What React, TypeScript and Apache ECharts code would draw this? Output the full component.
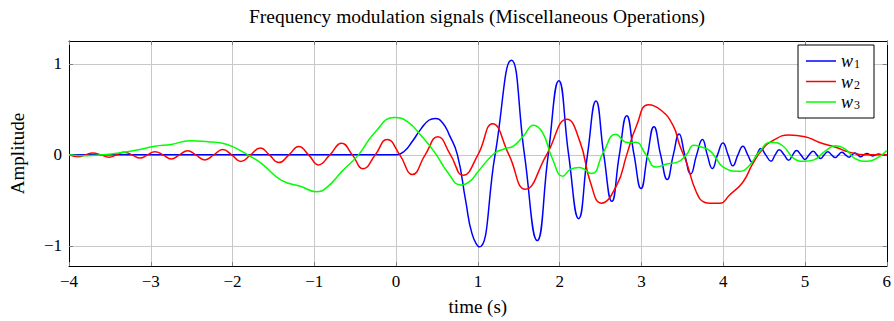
import React, { useEffect, useRef } from "react";
import * as echarts from "echarts";

// Text
const chartTitle = "Frequency modulation signals (Miscellaneous Operations)";
const xAxisName = "time (s)";
const yAxisName = "Amplitude";

// Axis ranges and ticks
const xMin = -4;
const xMax = 6;
const xStep = 1;
const yMin = -1.22;
const yMax = 1.25;
const yTicks = [-1, 0, 1];

// Series
const seriesNames = ["w1", "w2", "w3"];
const seriesColors = ["#0000ff", "#ff0000", "#00ff00"];

// [time, amplitude] samples
const w1: [number, number][] = [
  [-4, 0], [0, 0], [0.1, 0.04], [0.2, 0.15], [0.3, 0.28], [0.4, 0.38], [0.48, 0.4],
  [0.57, 0.35], [0.65, 0.22], [0.75, 0], [0.85, -0.5], [0.93, -0.87], [1.016, -1.01],
  [1.21, 0], [1.41, 1.04], [1.57, 0], [1.726, -0.94], [1.86, 0], [1.99, 0.815],
  [2.11, 0], [2.232, -0.7], [2.34, 0], [2.444, 0.59], [2.54, 0], [2.638, -0.51],
  [2.73, 0], [2.82, 0.43], [2.91, 0], [2.995, -0.37], [3.075, 0], [3.153, 0.31],
  [3.235, 0], [3.315, -0.27], [3.39, 0], [3.461, 0.23], [3.53, 0], [3.603, -0.21],
  [3.675, 0], [3.746, 0.17], [3.805, 0], [3.867, -0.15], [3.93, 0], [3.997, 0.13],
  [4.06, 0], [4.118, -0.12], [4.18, 0], [4.24, 0.095], [4.3, 0], [4.354, -0.08],
  [4.41, 0], [4.46, 0.07], [4.52, 0], [4.585, -0.07], [4.635, 0], [4.686, 0.055],
  [4.745, 0], [4.8, -0.06], [4.85, 0], [4.897, 0.047], [4.95, 0], [5.0, -0.05],
  [5.05, 0], [5.1, 0.04], [5.145, 0], [5.19, -0.04], [5.235, 0], [5.28, 0.035],
  [5.325, 0], [5.37, -0.03], [5.41, 0], [5.45, 0.03], [5.495, 0], [5.54, -0.025],
  [5.575, 0], [5.61, 0.02], [5.645, 0], [5.68, -0.02], [5.72, 0], [5.76, 0.015],
  [5.795, 0], [5.83, -0.012], [5.865, 0], [5.9, 0.01], [5.95, 0], [6.0, 0],
];

const w2: [number, number][] = [
  [-4, 0], [-3.88, -0.02], [-3.8, 0], [-3.71, 0.02], [-3.61, 0], [-3.51, -0.025],
  [-3.42, 0], [-3.33, 0.03], [-3.23, 0], [-3.13, -0.035], [-3.04, 0], [-2.95, 0.035],
  [-2.85, 0], [-2.75, -0.045], [-2.65, 0], [-2.55, 0.045], [-2.45, 0], [-2.34, -0.055],
  [-2.23, 0], [-2.12, 0.058], [-2.01, 0], [-1.9, -0.072], [-1.78, 0], [-1.66, 0.076],
  [-1.55, 0], [-1.435, -0.085], [-1.31, 0], [-1.19, 0.093], [-1.07, 0], [-0.95, -0.11],
  [-0.81, 0], [-0.667, 0.127], [-0.535, 0], [-0.403, -0.152], [-0.255, 0], [-0.11, 0.17],
  [0.045, 0], [0.2, -0.215], [0.355, 0], [0.51, 0.2], [0.665, 0], [0.82, -0.225],
  [1.0, 0], [1.18, 0.342], [1.38, 0], [1.58, -0.377], [1.84, 0], [2.09, 0.39],
  [2.25, 0.14], [2.375, -0.297], [2.51, -0.53], [2.7, -0.33], [2.82, 0], [2.94, 0.32],
  [3.084, 0.55], [3.24, 0.49], [3.388, 0.32], [3.47, 0.1], [3.55, -0.08], [3.67, -0.405],
  [3.77, -0.52], [3.84, -0.53], [3.96, -0.53], [4.078, -0.44], [4.24, -0.3], [4.36, -0.1],
  [4.483, 0.065], [4.605, 0.155], [4.8, 0.217], [5.0, 0.2], [5.17, 0.138], [5.376, 0.083],
  [5.54, 0.03], [5.74, 0], [6.0, 0],
];

const w3: [number, number][] = [
  [-4, 0], [-3.8, -0.01], [-3.6, 0], [-3.39, 0.02], [-3.15, 0.055], [-2.95, 0.095],
  [-2.75, 0.115], [-2.52, 0.155], [-2.3, 0.145], [-2.14, 0.13], [-2.0, 0.09], [-1.8, -0.007],
  [-1.64, -0.098], [-1.4, -0.28], [-1.153, -0.35], [-0.98, -0.405], [-0.85, -0.36],
  [-0.65, -0.17], [-0.46, 0], [-0.26, 0.246], [-0.02, 0.41], [0.145, 0.36], [0.307, 0.21],
  [0.47, 0.03], [0.63, -0.19], [0.79, -0.33], [0.915, -0.28], [0.996, -0.19], [1.2, 0.015],
  [1.32, 0.065], [1.44, 0.1], [1.56, 0.21], [1.68, 0.326], [1.79, 0.246], [1.91, -0.04],
  [2.04, -0.235], [2.13, -0.16], [2.24, -0.14], [2.39, -0.205], [2.536, 0.03], [2.685, 0.225],
  [2.83, 0.135], [2.93, 0.138], [3.05, 0.01], [3.18, -0.134], [3.32, -0.098], [3.44, -0.08],
  [3.55, 0], [3.64, 0.105], [3.75, 0.08], [3.83, 0.05], [3.9, -0.02], [4.0, -0.134],
  [4.2, -0.18], [4.32, -0.116], [4.44, 0.03], [4.585, 0.138], [4.727, 0.1], [4.87, -0.044],
  [4.99, -0.07], [5.11, -0.055], [5.254, 0.047], [5.376, 0.1], [5.5, 0.058], [5.62, -0.044],
  [5.76, -0.07], [5.9, -0.025], [6.0, 0.047],
];

const seriesData = [w1, w2, w3];

const SERIF = "'Liberation Serif', 'DejaVu Serif', serif";
const GRID_COLOR = "#c8c8c8";
const TICK_COLOR = "#808080";
const FRAME_COLOR = "#000000";

const minusSign = (v: number) => String(v).replace("-", "\u2212");

export default function App() {
  const ref = useRef<HTMLDivElement>(null);

  useEffect(() => {
    if (!ref.current) return;
    const chart = echarts.init(ref.current, undefined, { renderer: "svg" });

    const frameAxis = {
      axisLine: { show: true, onZero: false, lineStyle: { color: FRAME_COLOR, width: 1 } },
      axisTick: { show: true, inside: true, length: 4, lineStyle: { color: TICK_COLOR } },
    };

    chart.setOption({
      animation: false,
      backgroundColor: "#ffffff",
      graphic: [
        {
          type: "text",
          x: 477,
          y: 16,
          style: {
            text: chartTitle,
            align: "center",
            verticalAlign: "middle",
            font: `19.5px ${SERIF}`,
            fill: "#000",
          },
        },
      ],
      grid: { left: 66, right: 5.5, top: 41, bottom: 53, containLabel: false },
      legend: {
        data: seriesNames,
        orient: "vertical",
        left: 798,
        top: 45,
        backgroundColor: "#ffffff",
        borderColor: "#000000",
        borderWidth: 1,
        borderRadius: 0,
        padding: [7, 14, 7, 8],
        itemGap: 2.5,
        itemWidth: 30,
        itemHeight: 1.5,
        icon: "rect",
        formatter: (name: string) => `{w|w}{s|${name.slice(1)}}`,
        textStyle: {
          color: "#000",
          fontFamily: SERIF,
          lineHeight: 14,
          rich: {
            w: { fontFamily: SERIF, fontStyle: "italic", fontSize: 18, lineHeight: 14 },
            s: { fontFamily: SERIF, fontSize: 12, lineHeight: 14, padding: [6, 0, 0, 1] },
          },
        },
      },
      xAxis: [
        {
          type: "value",
          min: xMin,
          max: xMax,
          interval: xStep,
          position: "bottom",
          name: xAxisName,
          nameLocation: "middle",
          nameGap: 31,
          nameTextStyle: { fontFamily: SERIF, fontSize: 19, color: "#000" },
          ...frameAxis,
          axisLabel: {
            margin: 7,
            fontFamily: SERIF,
            fontSize: 17,
            color: "#000",
            formatter: minusSign,
          },
          splitLine: { show: true, lineStyle: { color: GRID_COLOR, width: 1 } },
        },
        {
          type: "value",
          min: xMin,
          max: xMax,
          interval: xStep,
          position: "top",
          ...frameAxis,
          axisLabel: { show: false },
          splitLine: { show: false },
        },
      ],
      yAxis: [
        {
          type: "value",
          min: yMin,
          max: yMax,
          position: "left",
          name: yAxisName,
          nameLocation: "middle",
          nameGap: 42,
          nameTextStyle: { fontFamily: SERIF, fontSize: 19, color: "#000" },
          ...frameAxis,
          axisTick: { ...frameAxis.axisTick, customValues: yTicks },
          axisLabel: {
            margin: 7,
            fontFamily: SERIF,
            fontSize: 17,
            color: "#000",
            customValues: yTicks,
            formatter: minusSign,
          },
          splitLine: { show: true, lineStyle: { color: GRID_COLOR, width: 1 } },
        },
        {
          type: "value",
          min: yMin,
          max: yMax,
          position: "right",
          ...frameAxis,
          axisTick: { ...frameAxis.axisTick, customValues: yTicks },
          axisLabel: { show: false, customValues: yTicks },
          splitLine: { show: false },
        },
      ],
      series: seriesNames.map((name, i) => ({
        name,
        type: "line",
        data: seriesData[i],
        xAxisIndex: 0,
        yAxisIndex: 0,
        smooth: 0.5,
        showSymbol: false,
        symbol: "none",
        clip: true,
        color: seriesColors[i],
        lineStyle: { color: seriesColors[i], width: 1.5 },
        z: 3 + i,
      })),
    });

    return () => chart.dispose();
  }, []);

  return (
    <div
      ref={ref}
      style={{ position: "fixed", left: 0, top: 0, width: 894, height: 321, background: "#fff" }}
    />
  );
}
